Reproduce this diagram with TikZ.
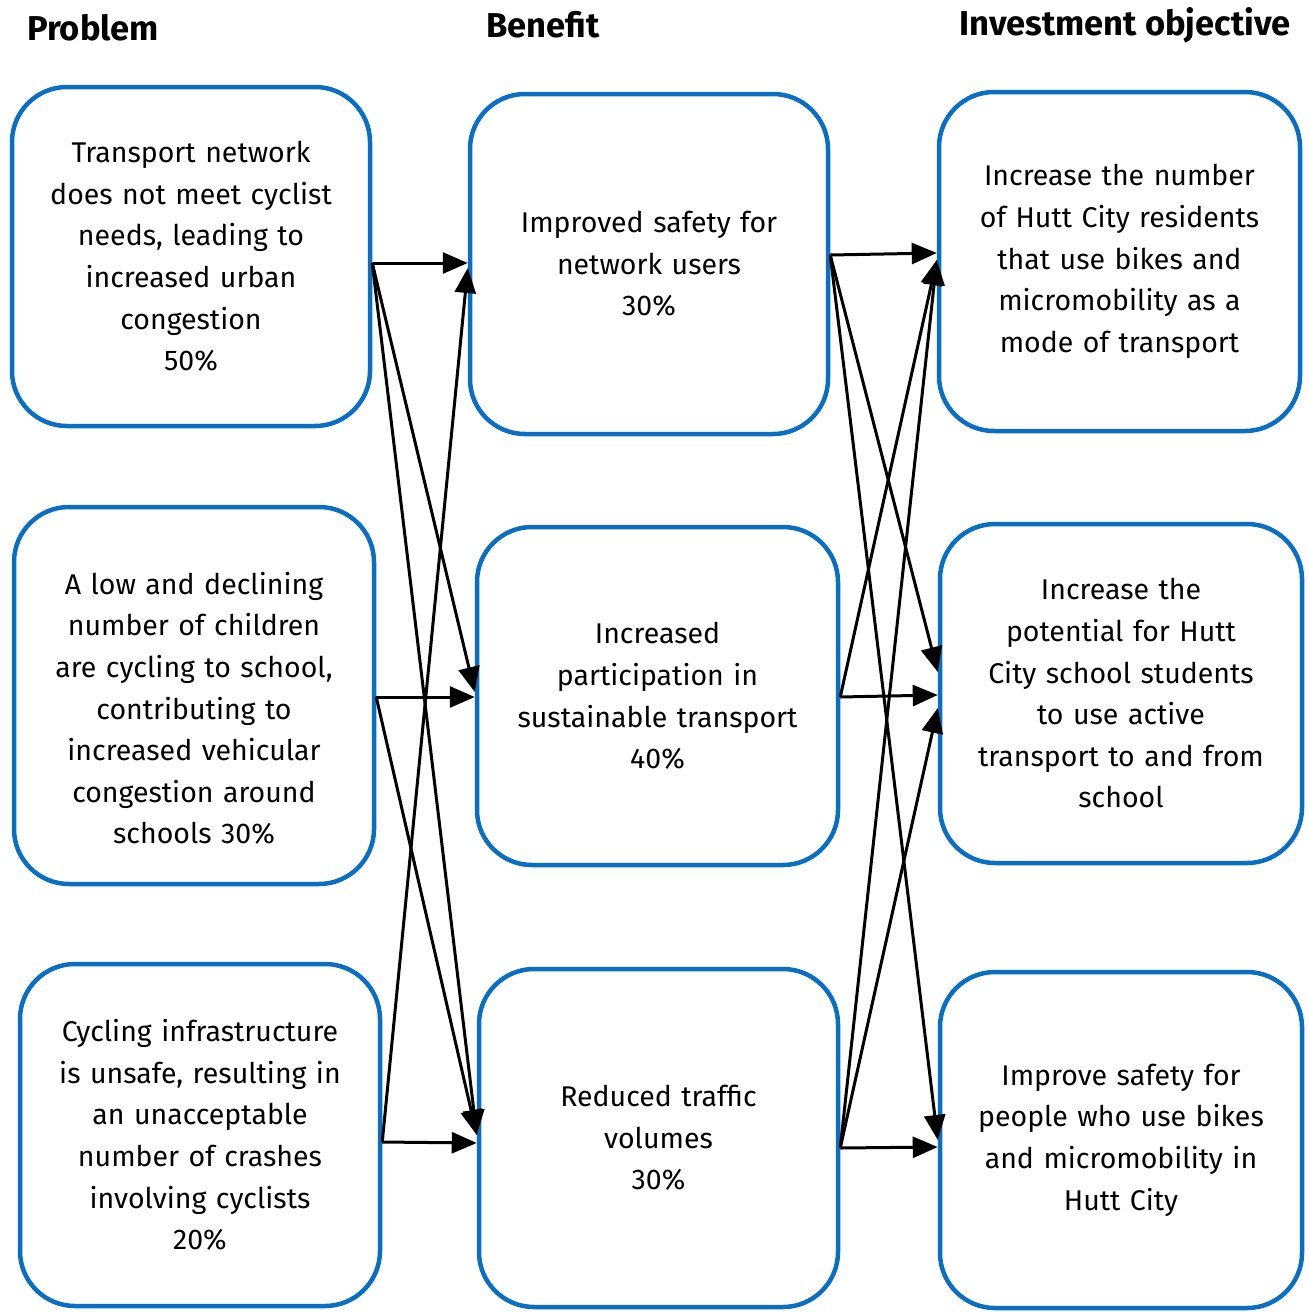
\documentclass[tikz,border=0pt]{standalone}
\usepackage{fontspec}
\setmainfont{Fira Sans}
\usepackage{tikz}
\usetikzlibrary{arrows.meta}
\definecolor{boxBlue}{HTML}{0A6FC2}

\begin{document}
\begin{tikzpicture}[
    x=1pt, y=-1pt,
    box/.style={
        rectangle,
        rounded corners=55pt,
        line width=4.5pt,
        draw=boxBlue,
        align=center,
        text width=345pt,
        minimum width=360pt,
        minimum height=340pt,
        font=\fontsize{28.5}{41.6}\selectfont,
      },
    head/.style={font=\fontsize{34.5}{40}\selectfont\bfseries},
    arr/.style={line width=3pt, -{Triangle[length=25pt, width=21pt]}},
  ]
  \useasboundingbox (0,0) rectangle (1309,1312);

  % column headings
  \node[head] (hP) at (93,28) {Problem};
  \node[head] (hB) at (543,25) {Benefit};
  \node[head] (hO) at (1125,25) {Investment objective};

  % problems
  \node[box, minimum width=358pt, minimum height=339pt] (p1) at (191,256.5)
    {Transport network\\does not meet cyclist\\needs, leading to\\increased urban\\congestion\\50\%};
  \node[box, minimum height=377pt] (p2) at (194,695.5)
    {\rule{0pt}{48pt}A low and declining\\number of children\\are cycling to school,\\contributing to\\increased vehicular\\congestion around\\schools 30\%};
  \node[box, minimum height=342pt] (p3) at (200,1135)
    {Cycling infrastructure\\is unsafe, resulting in\\an unacceptable\\number of crashes\\involving cyclists\\20\%};

  % benefits
  \node[box, minimum width=358pt] (b1) at (649,264)
    {Improved safety for\\network users\\30\%};
  \node[box, minimum width=361pt, minimum height=338pt] (b2) at (657.5,696)
    {Increased\\participation in\\sustainable transport\\40\%};
  \node[box, minimum width=359pt, minimum height=338pt] (b3) at (658.5,1138)
    {Reduced traffic\\volumes\\30\%};

  % investment objectives
  \node[box, minimum width=361pt, minimum height=339pt] (o1) at (1119.5,261.5)
    {Increase the number\\of Hutt City residents\\that use bikes and\\micromobility as a\\mode of transport};
  \node[box, minimum width=362pt, minimum height=339pt] (o2) at (1121,693.5)
    {Increase the\\potential for Hutt\\City school students\\to use active\\transport to and from\\school};
  \node[box, minimum width=362pt, minimum height=336pt] (o3) at (1121,1140)
    {Improve safety for\\people who use bikes\\and micromobility in\\Hutt City};

  % problem -> benefit
  \draw[arr] ([yshift=-6.5pt]p1.east) -- ([yshift=1pt]b1.west);
  \draw[arr] ([yshift=-6.5pt]p1.east) -- ([yshift=4pt]b2.west);
  \draw[arr] ([yshift=-6.5pt]p1.east) -- ([yshift=3pt]b3.west);
  \draw[arr] ([yshift=-1.5pt]p2.east) -- ([yshift=-1pt]b2.west);
  \draw[arr] ([yshift=-1.5pt]p2.east) -- ([yshift=3pt]b3.west);
  \draw[arr] ([yshift=-7pt]p3.east) -- ([yshift=-4pt]b1.west);
  \draw[arr] ([yshift=-7pt]p3.east) -- ([yshift=-5pt]b3.west);

  % benefit -> objective
  \draw[arr] ([yshift=9pt]b1.east) -- ([yshift=8.5pt]o1.west);
  \draw[arr] ([yshift=9pt]b1.east) -- ([yshift=21.5pt]o2.west);
  \draw[arr] ([yshift=9pt]b1.east) -- (o3.west);
  \draw[arr] ([yshift=-1pt]b2.east) -- ([yshift=-1.5pt]o2.west);
  \draw[arr] ([yshift=-1pt]b2.east) -- ([yshift=1.5pt]o1.west);
  \draw[arr] ([yshift=-10pt]b3.east) -- ([yshift=-7pt]o3.west);
  \draw[arr] ([yshift=-10pt]b3.east) -- ([yshift=1.5pt]o1.west);
  \draw[arr] ([yshift=-10pt]b3.east) -- ([yshift=-14.5pt]o2.west);
\end{tikzpicture}
\end{document}
